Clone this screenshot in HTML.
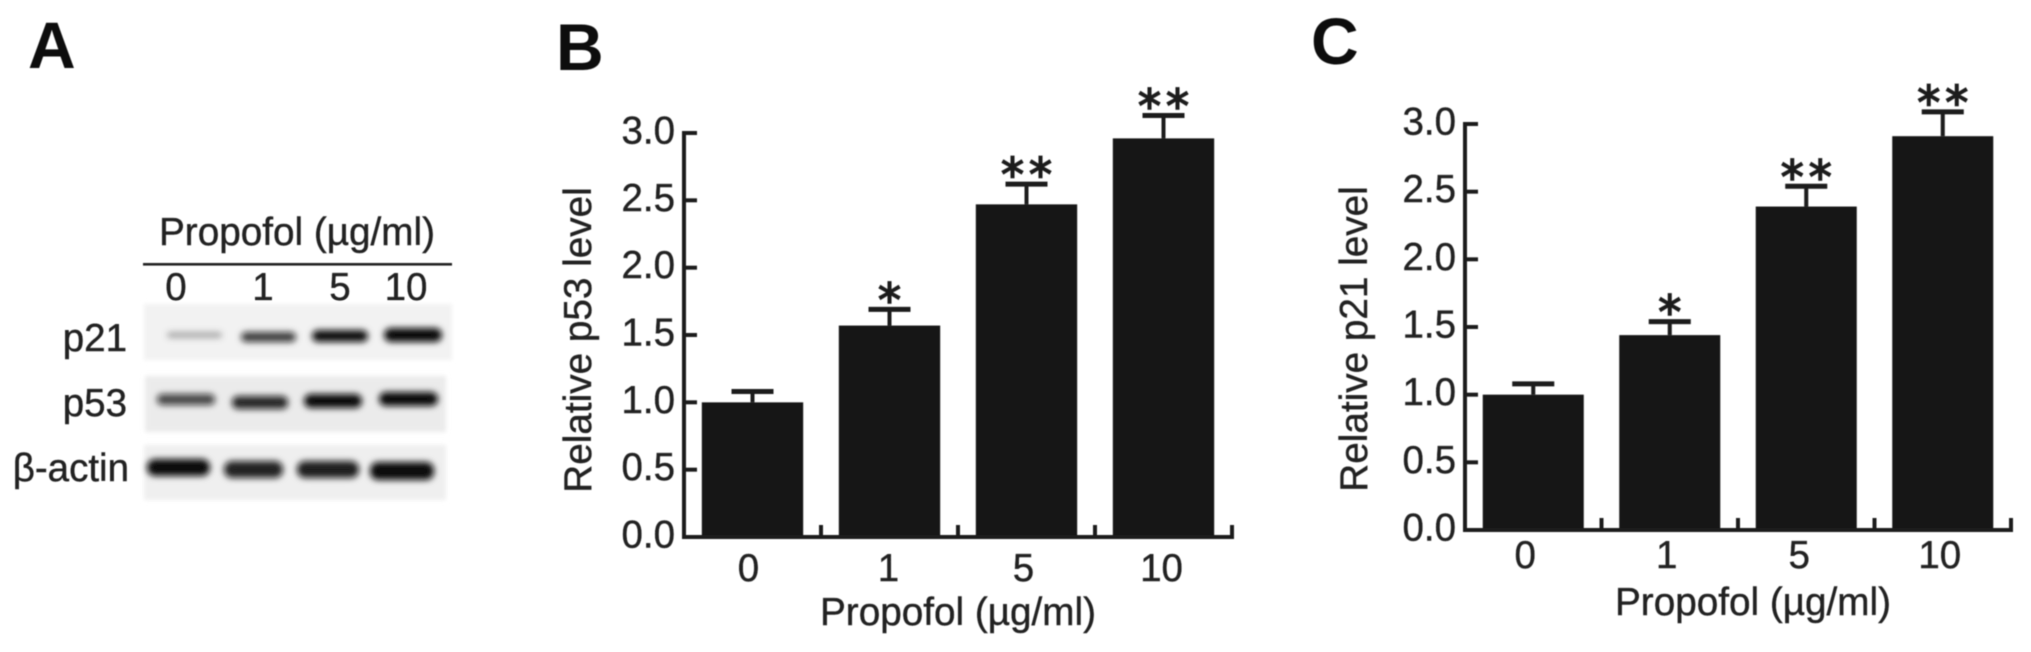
<!DOCTYPE html>
<html lang="en">
<head>
<meta charset="utf-8">
<title>Propofol p53 and p21 levels</title>
<style>
html,body{margin:0;padding:0;background:#fff;}
body{width:2031px;height:652px;overflow:hidden;}
svg{display:block;font-family:"Liberation Sans",Arial,sans-serif;fill:#222;}
.ink{stroke:#222;stroke-width:0.4px;}
</style>
</head>
<body>
<svg id="figure" width="2031" height="652" viewBox="0 0 2031 652" xmlns="http://www.w3.org/2000/svg">
  <defs>
    <filter id="soft" x="-5%" y="-5%" width="110%" height="110%"><feGaussianBlur stdDeviation="0.6"/></filter>
    <filter id="bandblur" x="-20%" y="-80%" width="140%" height="260%"><feGaussianBlur stdDeviation="3.2"/></filter>
    <filter id="edgeblur" x="-5%" y="-10%" width="110%" height="120%"><feGaussianBlur stdDeviation="2"/></filter>
  </defs>
  <g id="root" filter="url(#soft)">
    <text x="28" y="68" font-size="66" font-weight="700" fill="#111">A</text>
    <text x="556" y="70" font-size="66" font-weight="700" fill="#111">B</text>
    <text x="1311" y="64" font-size="66" font-weight="700" fill="#111">C</text>

    <g>
      <text class="ink" x="297" y="245" font-size="38.7" text-anchor="middle">Propofol (µg/ml)</text>
      <rect x="143" y="263" width="309" height="2.6" fill="#222"/>
      <text class="ink" x="176" y="300" font-size="38.5" text-anchor="middle">0</text>
      <text class="ink" x="263" y="300" font-size="38.5" text-anchor="middle">1</text>
      <text class="ink" x="340" y="300" font-size="38.5" text-anchor="middle">5</text>
      <text class="ink" x="406" y="300" font-size="38.5" text-anchor="middle">10</text>
      <text class="ink" x="127" y="351" font-size="38.5" text-anchor="end">p21</text>
      <text class="ink" x="127" y="416" font-size="38.5" text-anchor="end">p53</text>
      <text class="ink" x="129" y="481" font-size="38.5" text-anchor="end">β-actin</text>

      <rect x="144" y="304" width="308" height="56" fill="#f2f2f2" filter="url(#edgeblur)"/>
      <rect x="145" y="376" width="301" height="56" fill="#ebebeb" filter="url(#edgeblur)"/>
      <rect x="144" y="445" width="302" height="55" fill="#efefef" filter="url(#edgeblur)"/>

      <g filter="url(#bandblur)" fill="#0c0c0c">
        <rect x="167" y="332" width="55" height="6" rx="3" opacity="0.3"/>
        <rect x="241" y="332" width="55" height="10" rx="5" opacity="0.8"/>
        <rect x="312" y="330" width="56" height="12" rx="6" opacity="0.98"/>
        <rect x="384" y="328" width="58" height="14" rx="7"/>
      </g>
      <g filter="url(#bandblur)" fill="#0c0c0c">
        <rect x="157" y="394" width="58" height="11" rx="5" opacity="0.75"/>
        <rect x="232" y="396" width="56" height="13" rx="6" opacity="0.88"/>
        <rect x="304" y="394" width="58" height="14" rx="7"/>
        <rect x="379" y="392" width="59" height="14" rx="7"/>
      </g>
      <g filter="url(#bandblur)" fill="#0c0c0c">
        <rect x="147" y="459" width="63" height="17" rx="8"/>
        <rect x="224" y="461" width="59" height="17" rx="8" opacity="0.9"/>
        <rect x="297" y="461" width="62" height="17" rx="8" opacity="0.92"/>
        <rect x="370" y="462" width="64" height="18" rx="8"/>
      </g>
    </g>

    <g id="chart-b"></g>
    <g id="chart-c"></g>
  </g>
</svg>
<script>
const categories = ['0', '1', '5', '10'];
const yTickValues = [0, 0.5, 1, 1.5, 2, 2.5, 3];
const yTickLabels = ['0.0', '0.5', '1.0', '1.5', '2.0', '2.5', '3.0'];
const p53Values = [1.0, 1.57, 2.47, 2.96];
const p53Errors = [0.08, 0.12, 0.15, 0.17];
const p53Stars = ['', '*', '**', '**'];
const p21Values = [1.0, 1.44, 2.39, 2.91];
const p21Errors = [0.08, 0.10, 0.15, 0.18];
const p21Stars = ['', '*', '**', '**'];

const SVGNS = 'http://www.w3.org/2000/svg';

function node(parent, tag, props, text) {
  const el = document.createElementNS(SVGNS, tag);
  for (const k in props) el.setAttribute(k, props[k]);
  if (text !== undefined) el.textContent = text;
  parent.appendChild(el);
  return el;
}

function drawChart(host, cfg, values, errors, stars) {
  const yScale = v => cfg.y0 - (v / yTickValues[yTickValues.length - 1]) * (cfg.y0 - cfg.y3);
  const band = (cfg.x1 - cfg.x0) / categories.length;
  const xCenter = i => cfg.x0 + band * (i + 0.5);
  const barWidth = band * 0.74;
  const capHalf = 21;
  const ink = '#1c1c1c';

  categories.forEach((cat, i) => {
    const top = yScale(values[i]);
    const bar = node(host, 'rect', {
      x: xCenter(i) - barWidth / 2, y: top, width: barWidth, height: cfg.y0 - top, fill: '#151515'
    });
    
    

    const errTop = yScale(values[i] + errors[i]);
    const stem = node(host, 'line', {
      x1: xCenter(i), x2: xCenter(i), y1: top, y2: errTop, stroke: ink, 'stroke-width': 4
    });
    
    

    const cap = node(host, 'line', {
      x1: xCenter(i) - capHalf, x2: xCenter(i) + capHalf, y1: errTop, y2: errTop, stroke: ink, 'stroke-width': 5
    });
    
    

    if (stars[i]) {
      const spacing = stars[i].length > 1 ? 5 : 0;
      const star = node(host, 'text', {
        x: xCenter(i) + spacing / 2, y: errTop + 7, 'font-size': 46, 'text-anchor': 'middle', fill: ink,
        stroke: ink, 'stroke-width': 1.5,
        'letter-spacing': spacing, style: 'font-family:"DejaVu Sans",sans-serif'
      }, stars[i]);
      
      
    }

    const catLabel = node(host, 'text', {
      x: xCenter(i) + cfg.labelNudge[i], y: cfg.y0 + cfg.catLabelDy, 'font-size': 38.5, 'text-anchor': 'middle', class: 'ink'
    }, cat);
    
    

    const xt = cfg.x0 + band * (i + 1);
    const xTick = node(host, 'line', {
      x1: xt, x2: xt, y1: cfg.y0, y2: cfg.y0 - 12, stroke: ink, 'stroke-width': 4
    });
    
    
  });

  yTickValues.forEach((v, i) => {
    const tick = node(host, 'line', {
      x1: cfg.x0, x2: cfg.x0 + 13, y1: yScale(v), y2: yScale(v), stroke: ink, 'stroke-width': 4
    });
    
    

    const lab = node(host, 'text', {
      x: cfg.x0 - 9, y: yScale(v) + 10.5, 'font-size': 38.5, 'text-anchor': 'end', class: 'ink'
    }, yTickLabels[i]);
    
    
  });

  const yAxis = node(host, 'line', {
    x1: cfg.x0, x2: cfg.x0, y1: cfg.y3 - 2, y2: cfg.y0 + 2, stroke: ink, 'stroke-width': 4
  });
  
  

  const xAxis = node(host, 'line', {
    x1: cfg.x0 - 2, x2: cfg.x1 + 2, y1: cfg.y0, y2: cfg.y0, stroke: ink, 'stroke-width': 4
  });
  
  

  const yTitle = node(host, 'text', {
    x: 0, y: 0, 'font-size': 38.7, 'text-anchor': 'middle', class: 'ink',
    transform: 'translate(' + cfg.yTitleX + ' ' + cfg.yTitleY + ') rotate(-90)'
  }, cfg.yTitle);
  
  

  const xTitle = node(host, 'text', {
    x: cfg.xTitleX, y: cfg.xTitleY, 'font-size': 38.7, 'text-anchor': 'middle', class: 'ink'
  }, 'Propofol (µg/ml)');
  
  
}

drawChart(document.getElementById('chart-b'), {
  key: 'p53', x0: 684, x1: 1232, y0: 537, y3: 133, catLabelDy: 44, labelNudge: [-4, -1, -3, -2],
  yTitle: 'Relative p53 level', yTitleX: 591, yTitleY: 340, xTitleX: 958, xTitleY: 625
}, p53Values, p53Errors, p53Stars);

drawChart(document.getElementById('chart-c'), {
  key: 'p21', x0: 1465, x1: 2011, y0: 530, y3: 124, catLabelDy: 38, labelNudge: [-8, -3, -7, -3],
  yTitle: 'Relative p21 level', yTitleX: 1367, yTitleY: 339, xTitleX: 1753, xTitleY: 615
}, p21Values, p21Errors, p21Stars);
</script>
</body>
</html>
